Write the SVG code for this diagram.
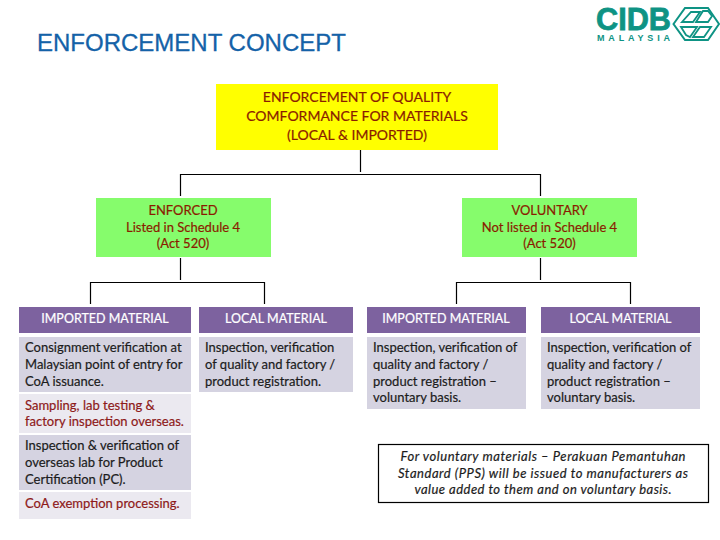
<svg xmlns="http://www.w3.org/2000/svg" width="720" height="540" viewBox="0 0 720 540">
<style>
text{font-family:"Lato","Open Sans",sans-serif;font-size:13px;fill:#1c1c1c;stroke:#1c1c1c;stroke-width:.2}
.c{text-anchor:middle}
.r{fill:#8e1a1a;stroke:#8e1a1a}
.rb{fill:#8a1c00;stroke:#8a1c00}
.big{font-size:14px}
.h{fill:#fff;stroke:#fff;text-anchor:middle;font-size:12.500px}
.i{font-style:italic;font-size:13px;text-anchor:middle}
.p{fill:#7d629f}.g{fill:#d5d3e1}.l{fill:#ebe9f0}.y{fill:#ffff00}.n{fill:#86fc6c}
#connectors path{fill:none;stroke:#000;stroke-width:1.2}
.logo{font-family:"Liberation Sans",sans-serif;font-weight:700;fill:#0e9384;stroke:#0e9384}
</style>
<rect width="720" height="540" fill="#fff"/>
<text id="title" x="37" y="51" style="font-family:'Liberation Sans',sans-serif;font-size:24px;fill:#1462a8;stroke:#1462a8;stroke-width:.3">ENFORCEMENT CONCEPT</text>
<g id="logo">
<text class="logo" x="596" y="30" textLength="75" lengthAdjust="spacingAndGlyphs" style="font-size:32px;stroke-width:.8">CIDB</text>
<text class="logo" x="597" y="41" textLength="73" style="font-size:9px;stroke-width:0">MALAYSIA</text>
<path d="M673.500 24L685 8H708L719 24L708 40H685Z" fill="none" stroke="#0e9384" stroke-width="2"/>
<path d="M682 22H693L700 12H691ZM696 22H708L712 16L708 11H703Z" fill="none" stroke="#0e9384" stroke-width="1.800"/>
<path d="M681 27L686 35L690 37L697 27ZM700 27H711L704 37H693Z" fill="none" stroke="#0e9384" stroke-width="1.800"/>
</g>
<g id="connectors">
<path d="M360.500 150V172M180.500 196V174.500H540.500V196"/>
<path d="M180.500 258V280M90.500 304V282.500H264.500V304"/>
<path d="M540.500 258V280M456.500 304V282.500H630.500V304"/>
</g>
<g id="root"><rect class="y" x="216" y="84" width="282" height="66"/>
<text class="c rb big" x="357" y="102">ENFORCEMENT OF QUALITY</text>
<text class="c rb big" x="357" y="121">COMFORMANCE FOR MATERIALS</text>
<text class="c rb big" x="357" y="140">(LOCAL &amp; IMPORTED)</text></g>
<g id="enforced"><rect class="n" x="96" y="198" width="175" height="59"/>
<text class="c rb" x="183" y="215">ENFORCED</text>
<text class="c rb" x="183" y="232">Listed in Schedule 4</text>
<text class="c rb" x="183" y="248">(Act 520)</text></g>
<g id="voluntary"><rect class="n" x="462" y="198" width="175" height="59"/>
<text class="c rb" x="549.500" y="215">VOLUNTARY</text>
<text class="c rb" x="549.500" y="232">Not listed in Schedule 4</text>
<text class="c rb" x="549.500" y="248">(Act 520)</text></g>
<g id="imported-enforced"><rect class="p" x="19" y="307" width="172" height="26"/>
<text class="h" x="105" y="323">IMPORTED MATERIAL</text>
<rect class="g" x="19" y="337" width="172" height="55"/>
<text x="25" y="352">Consignment verification at</text>
<text x="25" y="369">Malaysian point of entry for</text>
<text x="25" y="386">CoA issuance.</text>
<rect class="l" x="19" y="394" width="172" height="39"/>
<text class="r" x="25" y="410">Sampling, lab testing &amp;</text>
<text class="r" x="25" y="426">factory inspection overseas.</text>
<rect class="g" x="19" y="435" width="172" height="55"/>
<text x="25" y="450">Inspection &amp; verification of</text>
<text x="25" y="467">overseas lab for Product</text>
<text x="25" y="484">Certification (PC).</text>
<rect class="l" x="19" y="492" width="172" height="27"/>
<text class="r" x="25" y="508">CoA exemption processing.</text></g>
<g id="local-enforced"><rect class="p" x="199" y="307" width="154" height="26"/>
<text class="h" x="276" y="323">LOCAL MATERIAL</text>
<rect class="g" x="199" y="337" width="154" height="55"/>
<text x="205" y="352">Inspection, verification</text>
<text x="205" y="369">of quality and factory /</text>
<text x="205" y="386">product registration.</text></g>
<g id="imported-voluntary"><rect class="p" x="367" y="307" width="159" height="26"/>
<text class="h" x="446" y="323">IMPORTED MATERIAL</text>
<rect class="g" x="367" y="337" width="159" height="72"/>
<text x="373" y="352">Inspection, verification of</text>
<text x="373" y="369">quality and factory /</text>
<text x="373" y="386">product registration –</text>
<text x="373" y="402">voluntary basis.</text></g>
<g id="local-voluntary"><rect class="p" x="541" y="307" width="159" height="26"/>
<text class="h" x="620.500" y="323">LOCAL MATERIAL</text>
<rect class="g" x="541" y="337" width="159" height="72"/>
<text x="547" y="352">Inspection, verification of</text>
<text x="547" y="369">quality and factory /</text>
<text x="547" y="386">product registration –</text>
<text x="547" y="402">voluntary basis.</text></g>
<g id="note"><rect x="378.500" y="444.500" width="330" height="58" fill="#fff" stroke="#000" stroke-width="1.200"/>
<text class="i" x="543" y="461" textLength="285">For voluntary  materials – Perakuan Pemantuhan</text>
<text class="i" x="543" y="478" textLength="290">Standard (PPS)  will be issued to manufacturers as</text>
<text class="i" x="543" y="494" textLength="257">value added to them and on voluntary basis.</text></g>
</svg>
